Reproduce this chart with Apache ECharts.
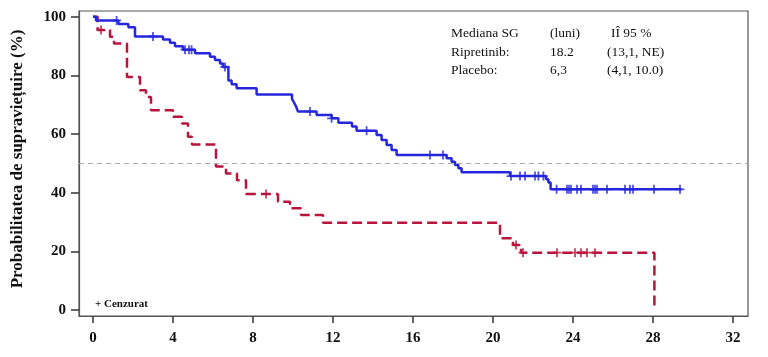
<!DOCTYPE html>
<html>
<head>
<meta charset="utf-8">
<script src="https://cdn.jsdelivr.net/npm/echarts@6/dist/echarts.min.js"></script>
<style>html,body{margin:0;padding:0;background:#fff;}#c{width:768px;height:357px;}</style>
</head>
<body>
<div id="c"></div>
<script>
// Ripretinib (blue, solid) Kaplan-Meier steps: time (months) -> survival (%)
const ripTime = [0, 0.15, 1.27, 1.77, 2.1, 3.5, 3.85, 4.1, 4.5, 5.1, 5.85, 6.1, 6.35, 6.5, 6.77, 6.93, 7.18, 8.18, 9.95, 10.05, 10.15, 10.25, 11.18, 11.93, 12.27, 12.95, 13.18, 14.18, 14.43, 14.68, 14.93, 15.18, 17.68, 17.93, 18.1, 18.27, 18.43, 20.85, 22.65, 22.77, 22.88, 29.43];
const ripSurv = [100, 98.8, 97.6, 96.5, 93.3, 92.3, 91.2, 90.0, 88.8, 87.6, 86.4, 85.3, 84.1, 82.9, 78.3, 77.0, 75.7, 73.5, 72.0, 70.8, 69.5, 67.7, 66.5, 65.4, 63.9, 62.6, 61.2, 59.7, 58.0, 56.3, 54.6, 52.9, 51.8, 50.6, 49.5, 48.4, 47.0, 45.7, 44.6, 43.5, 41.2, 41.2];
const ripCensorTime = [1.18, 3.0, 4.6, 4.8, 4.93, 6.6, 10.85, 11.93, 13.68, 16.85, 17.5, 20.9, 21.35, 21.6, 22.1, 22.27, 22.52, 23.18, 23.7, 23.8, 23.9, 24.2, 24.4, 25.0, 25.1, 25.2, 25.7, 26.6, 26.85, 27.0, 28.05, 29.35];
const ripCensorSurv = [98.8, 93.3, 88.8, 88.8, 88.8, 82.9, 67.7, 65.4, 61.2, 52.9, 52.9, 45.7, 45.7, 45.7, 45.7, 45.7, 45.7, 41.2, 41.2, 41.2, 41.2, 41.2, 41.2, 41.2, 41.2, 41.2, 41.2, 41.2, 41.2, 41.2, 41.2, 41.2];

// Placebo (red, dashed)
const plaTime = [0, 0.23, 0.85, 1.05, 1.7, 2.35, 2.65, 2.9, 4.0, 4.45, 4.75, 4.95, 6.15, 6.65, 7.2, 7.65, 9.25, 9.85, 10.4, 11.5, 20.35, 21.0, 21.4, 28.07];
const plaSurv = [100, 95.5, 93.2, 90.9, 79.5, 75.0, 72.7, 68.2, 65.9, 63.6, 59.1, 56.5, 49.0, 46.6, 44.3, 39.6, 37.0, 34.7, 32.4, 29.8, 24.5, 22.2, 19.6, 0];
const plaCensorTime = [0.4, 8.65, 21.15, 21.5, 23.2, 24.1, 24.4, 24.7, 25.1];
const plaCensorSurv = [95.5, 39.6, 22.2, 19.6, 19.6, 19.6, 19.6, 19.6, 19.6];

const xTicks = [0, 4, 8, 12, 16, 20, 24, 28, 32];
const yTicks = [0, 20, 40, 60, 80, 100];
const medianLine = 50;

const tableRows = [
  ["Mediana SG", "(luni)", "IÎ 95 %"],
  ["Ripretinib:", "18.2", "(13,1, NE)"],
  ["Placebo:", "6,3", "(4,1, 10.0)"]
];
const yTitle = "Probabilitatea de supraviețuire (%)";
const censorNote = "+ Cenzurat";

const BLUE = '#2626dc';
const RED = '#b8143c';
const serif = '"Liberation Serif", "DejaVu Serif", serif';
const plusPath = 'path://M4,0H6V4H10V6H6V10H4V6H0V4H4Z';

function pairs(xs, ys) { return xs.map((x, i) => [x, ys[i]]); }

const chart = echarts.init(document.getElementById('c'));

const colX = [451, 550, 607];
const rowY = [33, 52, 70];
const graphics = [];
tableRows.forEach((row, r) => {
  row.forEach((cell, c) => {
    graphics.push({
      type: 'text',
      style: {
        text: cell,
        x: colX[c] + (r === 0 && c === 2 ? 4 : 0),
        y: rowY[r],
        fill: '#111',
        font: '13.5px ' + serif,
        align: 'left',
        verticalAlign: 'middle'
      }
    });
  });
});
graphics.push({
  type: 'text',
  style: {
    text: censorNote, x: 95, y: 304, fill: '#111',
    font: 'bold 11px ' + serif, align: 'left', verticalAlign: 'middle'
  }
});
graphics.push({
  type: 'text',
  x: 18, y: 159, rotation: Math.PI / 2,
  style: {
    text: yTitle, x: 0, y: 0, fill: '#111',
    font: 'bold 17px ' + serif, align: 'center', verticalAlign: 'middle'
  }
});

chart.setOption({
  animation: false,
  backgroundColor: '#fff',
  grid: {
    left: 79, top: 11, right: 20, bottom: 41,
    show: true, borderColor: '#555', borderWidth: 1.2
  },
  xAxis: {
    type: 'value', min: -0.7, max: 32.75,
    axisLine: {show: true, onZero: false, lineStyle: {color: '#555', width: 1.2}},
    splitLine: {show: false},
    axisTick: {show: true, length: 7, customValues: xTicks, lineStyle: {color: '#333', width: 1.5}},
    axisLabel: {customValues: xTicks, margin: 15, color: '#111', fontFamily: serif, fontWeight: 'bold', fontSize: 15}
  },
  yAxis: {
    type: 'value', min: -2, max: 102,
    axisLine: {show: true, onZero: false, lineStyle: {color: '#555', width: 1.2}},
    splitLine: {show: false},
    axisTick: {show: true, length: 8, customValues: yTicks, lineStyle: {color: '#333', width: 1.5}},
    axisLabel: {customValues: yTicks, margin: 13, color: '#111', fontFamily: serif, fontWeight: 'bold', fontSize: 15}
  },
  graphic: graphics,
  series: [
    {
      type: 'line', data: [], z: 1, silent: true,
      markLine: {
        silent: true, symbol: 'none', label: {show: false},
        lineStyle: {color: '#aaa', type: [5, 4], width: 1},
        data: [{yAxis: medianLine}]
      }
    },
    {
      name: 'Ripretinib', type: 'line', step: 'end', z: 3,
      data: pairs(ripTime, ripSurv), showSymbol: false, symbol: 'none',
      lineStyle: {color: BLUE, width: 2.5}
    },
    {
      name: 'Placebo', type: 'line', step: 'end', z: 2,
      data: pairs(plaTime, plaSurv), showSymbol: false, symbol: 'none',
      lineStyle: {color: RED, width: 2.5, type: [10, 5]}
    },
    {
      type: 'scatter', z: 4, data: pairs(ripCensorTime, ripCensorSurv),
      symbol: plusPath, symbolSize: 9, itemStyle: {color: BLUE}
    },
    {
      type: 'scatter', z: 4, data: pairs(plaCensorTime, plaCensorSurv),
      symbol: plusPath, symbolSize: 9, itemStyle: {color: RED}
    }
  ]
});
</script>
</body>
</html>
